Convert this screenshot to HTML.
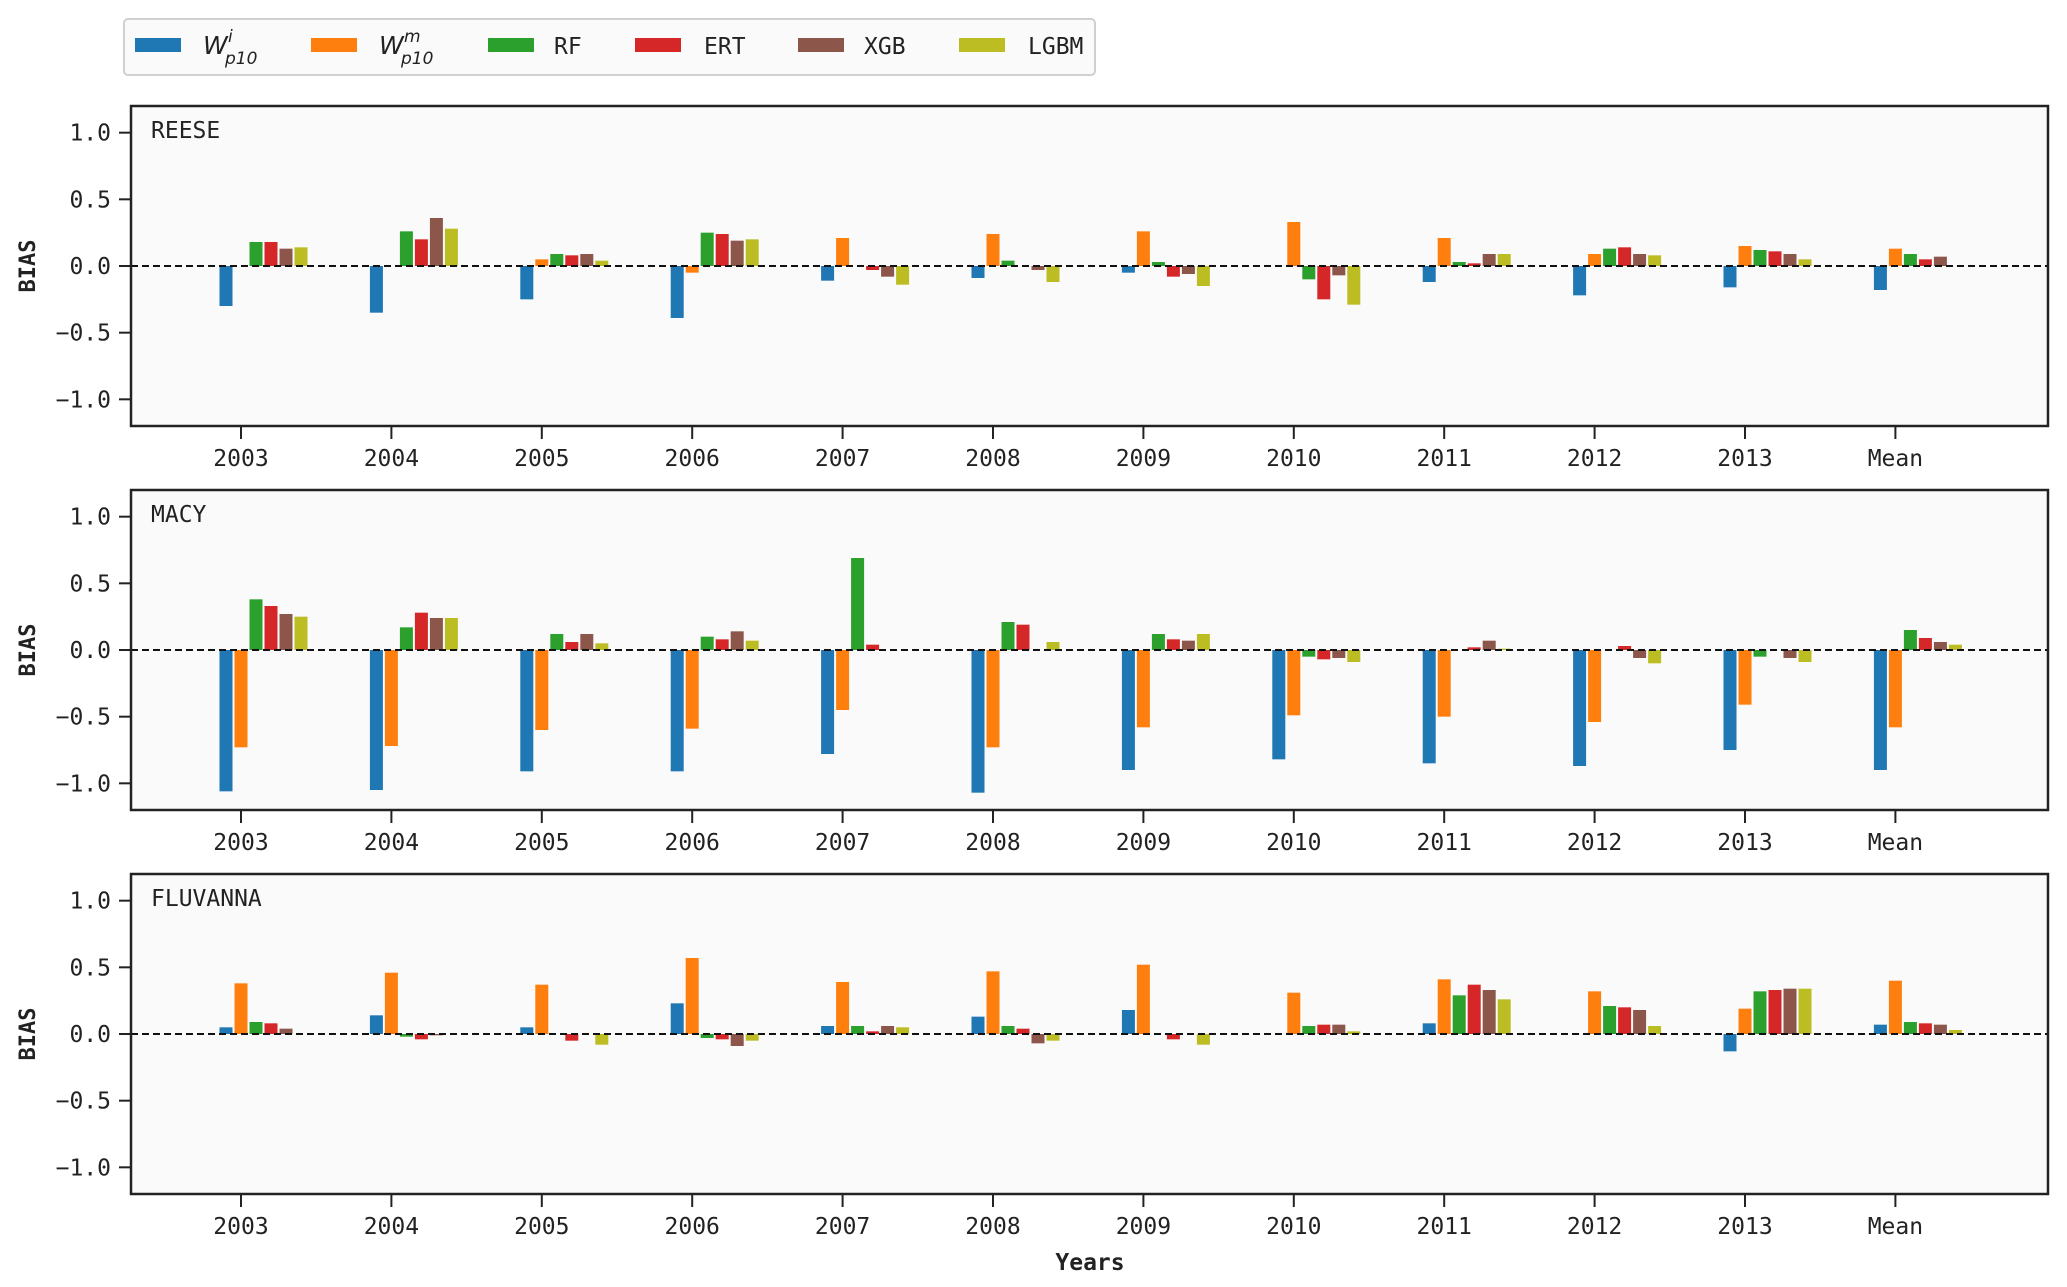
<!DOCTYPE html>
<html><head><meta charset="utf-8"><style>
html,body{margin:0;padding:0;background:#fff;}
svg{display:block;font-family:"DejaVu Sans Mono","Liberation Mono",monospace;}
</style></head><body>
<svg id="chart" width="2067" height="1287" viewBox="0 0 2067 1287" xmlns="http://www.w3.org/2000/svg">
<g id="legend">
<rect x="124" y="19" width="971" height="56" rx="4" fill="#fafafa" stroke="#d0d0d0" stroke-width="2"/>
</g>
</svg>
<script>
const categories = ["2003","2004","2005","2006","2007","2008","2009","2010","2011","2012","2013","Mean"];
const seriesNames = ["Wi","Wm","RF","ERT","XGB","LGBM"];
const colors = ["#1f77b4","#ff7f0e","#2ca02c","#d62728","#8c564b","#bcbd22"];
const yTicks = [1.0,0.5,0.0,-0.5,-1.0];
const yTickLabels = ["1.0","0.5","0.0","\u22120.5","\u22121.0"];
const reese = [
 [-0.30,-0.35,-0.25,-0.39,-0.11,-0.09,-0.05,0.00,-0.12,-0.22,-0.16,-0.18],
 [0.00,0.00,0.05,-0.05,0.21,0.24,0.26,0.33,0.21,0.09,0.15,0.13],
 [0.18,0.26,0.09,0.25,0.00,0.04,0.03,-0.10,0.03,0.13,0.12,0.09],
 [0.18,0.20,0.08,0.24,-0.03,0.00,-0.08,-0.25,0.02,0.14,0.11,0.05],
 [0.13,0.36,0.09,0.19,-0.08,-0.03,-0.06,-0.07,0.09,0.09,0.09,0.07],
 [0.14,0.28,0.04,0.20,-0.14,-0.12,-0.15,-0.29,0.09,0.08,0.05,0.00]
];
const macy = [
 [-1.06,-1.05,-0.91,-0.91,-0.78,-1.07,-0.90,-0.82,-0.85,-0.87,-0.75,-0.90],
 [-0.73,-0.72,-0.60,-0.59,-0.45,-0.73,-0.58,-0.49,-0.50,-0.54,-0.41,-0.58],
 [0.38,0.17,0.12,0.10,0.69,0.21,0.12,-0.05,0.00,0.00,-0.05,0.15],
 [0.33,0.28,0.06,0.08,0.04,0.19,0.08,-0.07,0.02,0.03,0.00,0.09],
 [0.27,0.24,0.12,0.14,0.00,0.00,0.07,-0.06,0.07,-0.06,-0.06,0.06],
 [0.25,0.24,0.05,0.07,0.00,0.06,0.12,-0.09,0.01,-0.10,-0.09,0.04]
];
const fluvanna = [
 [0.05,0.14,0.05,0.23,0.06,0.13,0.18,0.00,0.08,0.00,-0.13,0.07],
 [0.38,0.46,0.37,0.57,0.39,0.47,0.52,0.31,0.41,0.32,0.19,0.40],
 [0.09,-0.02,0.00,-0.03,0.06,0.06,0.00,0.06,0.29,0.21,0.32,0.09],
 [0.08,-0.04,-0.05,-0.04,0.02,0.04,-0.04,0.07,0.37,0.20,0.33,0.08],
 [0.04,-0.01,0.00,-0.09,0.06,-0.07,0.00,0.07,0.33,0.18,0.34,0.07],
 [0.00,0.00,-0.08,-0.05,0.05,-0.05,-0.08,0.02,0.26,0.06,0.34,0.03]
];
const panelNames = ["REESE","MACY","FLUVANNA"];
const panelData = [reese, macy, fluvanna];

const NS="http://www.w3.org/2000/svg";
const svg=document.getElementById('chart');
function mk(tag,attrs,parent){const e=document.createElementNS(NS,tag);for(const k in attrs)e.setAttribute(k,attrs[k]);(parent||svg).appendChild(e);return e;}

const axL=131, axR=2048, panelTops=[106,490,874], axH=320, yMax=1.2, yMin=-1.2;
const x0=241, xStep=150.4, barStep=15, barW=13;
const xScale=i=>x0+i*xStep;

panelData.forEach((data,p)=>{
  const top=panelTops[p];
  const yScale=v=>top+(yMax-v)/(yMax-yMin)*axH;
  const g=mk('g',{});
  
  
  const bg=mk('rect',{x:axL,y:top,width:axR-axL,height:axH,fill:'#fafafa'},g);
  
  
  yTicks.forEach((t,k)=>{
    const y=yScale(t);
    mk('line',{x1:axL-12,x2:axL,y1:y,y2:y,stroke:'#222','stroke-width':2},g);
    const tl=mk('text',{x:axL-20,y:y+8,'text-anchor':'end','font-size':23,fill:'#222'},g);
    tl.textContent=yTickLabels[k];
    
    
  });
  data.forEach((vals,s)=>{
    vals.forEach((v,i)=>{
      const cx=xScale(i)+(s-1)*barStep;
      const y0=yScale(0), y1=yScale(v);
      const r=mk('rect',{x:cx-barW/2,y:Math.min(y0,y1),width:barW,height:Math.abs(y1-y0),fill:colors[s]},g);
      
      
    });
  });
  const zl=mk('line',{x1:axL,x2:axR,y1:yScale(0),y2:yScale(0),stroke:'#111','stroke-width':2,'stroke-dasharray':'7,4'},g);
  
  
  mk('rect',{x:axL,y:top,width:axR-axL,height:axH,fill:'none',stroke:'#222','stroke-width':2.5},g);
  categories.forEach((c,i)=>{
    const x=xScale(i);
    mk('line',{x1:x,x2:x,y1:top+axH,y2:top+axH+13,stroke:'#222','stroke-width':2},g);
    const tl=mk('text',{x:x,y:top+axH+40,'text-anchor':'middle','font-size':23,fill:'#222'},g);
    tl.textContent=c;
    
    
  });
  const pl=mk('text',{x:151,y:top+32,'font-size':23,fill:'#222'},g);
  pl.textContent=panelNames[p];
  
  
  const yl=mk('text',{x:0,y:0,'font-size':22,'font-weight':'bold',fill:'#222','text-anchor':'middle',transform:`translate(35,${yScale(0)}) rotate(-90)`},g);
  yl.textContent='BIAS';
  
  
});
const xl=mk('text',{x:1090,y:1270,'font-size':23,'font-weight':'bold',fill:'#222','text-anchor':'middle'});
xl.textContent='Years';



const lg=document.getElementById('legend');
const handleX=[135,311,488,635,798,959];
const textX=[203,379,554,704,864,1028];
seriesNames.forEach((n,s)=>{
  const e=mk('g',{},lg);
  
  
  mk('rect',{x:handleX[s],y:38,width:46,height:14,fill:colors[s]},e);
  if(s<2){
    const w=mk('text',{x:textX[s],y:54,'font-size':25,'font-style':'italic','font-family':'DejaVu Sans, sans-serif',fill:'#222'},e); w.textContent='W';
    const sup=mk('text',{x:textX[s]+25,y:42,'font-size':17,'font-style':'italic','font-family':'DejaVu Sans, sans-serif',fill:'#222'},e); sup.textContent=s===0?'i':'m';
    const sub=mk('text',{x:textX[s]+22,y:64,'font-size':17,'font-style':'italic','font-family':'DejaVu Sans, sans-serif',fill:'#222'},e); sub.textContent='p10';
  } else {
    const t=mk('text',{x:textX[s],y:54,'font-size':23,fill:'#222'},e);
    t.textContent=n;
  }
});
</script>
</body></html>
